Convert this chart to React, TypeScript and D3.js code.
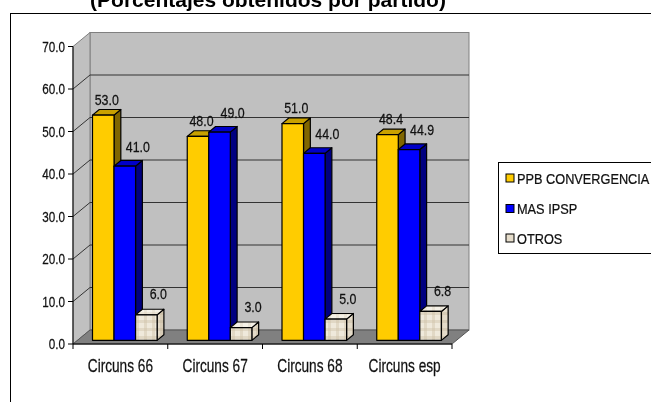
import React, { useEffect, useRef } from 'react';
import * as d3 from 'd3';

const categories = ['Circuns 66', 'Circuns 67', 'Circuns 68', 'Circuns esp'];
const seriesNames = ['PPB CONVERGENCIA', 'MAS IPSP', 'OTROS'];
const ppbValues = [53.0, 48.0, 51.0, 48.4];
const masValues = [41.0, 49.0, 44.0, 44.9];
const otrosValues = [6.0, 3.0, 5.0, 6.8];
const yTicks = [0, 10, 20, 30, 40, 50, 60, 70];
const title = '(Porcentajes obtenidos por partido)';

const App = () => {
  const svgRef = useRef(null);

  useEffect(() => {
    const w = 651;
    const h = 402;

    const svg = d3.select(svgRef.current)
      .attr('width', w)
      .attr('height', h);
    svg.selectAll('*').remove();

    // no Arial Narrow here, so squeeze Liberation Sans horizontally
    const narrowText = (parent, str, x, y, size, anchor, sx = 0.8) =>
      parent.append('text')
        .text(str)
        .attr('transform', `translate(${x},${y}) scale(${sx},1)`)
        .attr('text-anchor', anchor)
        .attr('font-family', "'Liberation Sans', Arial, sans-serif")
        .attr('font-size', size)
        .attr('fill', '#111')
        .attr('stroke', '#111')
        .attr('stroke-width', 0.25);

    // fake 3d: front plane + shift towards the back wall
    const left = 73;
    const right = 452;
    const depthX = 17;
    const depthY = -14;
    // bars sit in the middle of the floor depth
    const barFront = 0.26;
    const barBack = 0.66;

    const yScale = d3.scaleLinear().domain([0, 70]).range([344, 46.5]);
    const x0 = d3.scaleBand().domain(categories).range([left, right]);
    const x1 = d3.scaleBand().domain(seriesNames).range([0, x0.bandwidth()]).paddingOuter(0.7);

    const series = [
      { name: seriesNames[0], values: ppbValues, front: '#FFCC00', top: '#C9A100', side: '#806600' },
      { name: seriesNames[1], values: masValues, front: '#0000FF', top: '#0000C8', side: '#000080' },
      { name: seriesNames[2], values: otrosValues, front: 'url(#otros)', top: 'url(#otrosTop)', side: 'url(#otrosSide)' }
    ];

    // textures for the OTROS cubes
    const defs = svg.append('defs');
    const pat = (id, base, stripe) => {
      const p = defs.append('pattern')
        .attr('id', id)
        .attr('width', 8)
        .attr('height', 8)
        .attr('patternUnits', 'userSpaceOnUse');
      p.append('rect').attr('width', 8).attr('height', 8).attr('fill', base);
      p.append('rect').attr('x', 0).attr('width', 3).attr('height', 8).attr('fill', stripe).attr('opacity', 0.4);
      p.append('rect').attr('y', 0).attr('width', 8).attr('height', 3).attr('fill', stripe).attr('opacity', 0.4);
    };
    pat('otros', '#EFE9DB', '#CDBFA5');
    pat('otrosTop', '#F5F1E7', '#DCD2BE');
    pat('otrosSide', '#E4DBC9', '#C3B69C');

    // outer chart frame (cut by the picture edges)
    svg.append('rect')
      .attr('x', 10.5)
      .attr('y', 13.5)
      .attr('width', 700)
      .attr('height', 500)
      .attr('fill', 'white')
      .attr('stroke', 'black');

    svg.append('text')
      .text(title)
      .attr('x', 268)
      .attr('y', 7)
      .attr('text-anchor', 'middle')
      .attr('font-family', "Arial, 'Liberation Sans', sans-serif")
      .attr('font-weight', 'bold')
      .attr('font-size', '21px');

    const top = yScale(70);
    const base = yScale(0);

    // back wall
    svg.append('rect')
      .attr('x', left + depthX)
      .attr('y', top + depthY)
      .attr('width', right - left)
      .attr('height', base - top)
      .attr('fill', '#C0C0C0')
      .attr('stroke', '#808080');

    // side wall
    svg.append('polygon')
      .attr('points', [
        [left, top], [left + depthX, top + depthY],
        [left + depthX, base + depthY], [left, base]
      ].map((p) => p.join(',')).join(' '))
      .attr('fill', '#C0C0C0')
      .attr('stroke', '#808080');

    // gridlines on both walls
    const grid = yTicks.filter((t) => t > 0 && t < 70);
    svg.selectAll('line.gridBack')
      .data(grid)
      .enter()
      .append('line')
      .attr('x1', left + depthX)
      .attr('x2', right + depthX)
      .attr('y1', (d) => yScale(d) + depthY)
      .attr('y2', (d) => yScale(d) + depthY)
      .attr('stroke', '#333');
    svg.selectAll('line.gridSide')
      .data(grid)
      .enter()
      .append('line')
      .attr('x1', left)
      .attr('x2', left + depthX)
      .attr('y1', (d) => yScale(d))
      .attr('y2', (d) => yScale(d) + depthY)
      .attr('stroke', '#333');

    // floor
    svg.append('polygon')
      .attr('points', [
        [left, base], [right, base],
        [right + depthX, base + depthY], [left + depthX, base + depthY]
      ].map((p) => p.join(',')).join(' '))
      .attr('fill', '#808080')
      .attr('stroke', '#555');

    // axes
    svg.append('line')
      .attr('x1', left).attr('x2', left)
      .attr('y1', base).attr('y2', top)
      .attr('stroke', 'black');
    svg.append('line')
      .attr('x1', left).attr('x2', right)
      .attr('y1', base).attr('y2', base)
      .attr('stroke', 'black');

    svg.selectAll('line.yTick')
      .data(yTicks)
      .enter()
      .append('line')
      .attr('x1', left - 5).attr('x2', left)
      .attr('y1', (d) => yScale(d)).attr('y2', (d) => yScale(d))
      .attr('stroke', 'black');
    yTicks.forEach((t) => {
      narrowText(svg, t.toFixed(1), left - 8, yScale(t) + 5.3, '15px', 'end', 0.78);
    });

    const xEdges = categories.map((c) => x0(c)).concat([right]);
    svg.selectAll('line.xTick')
      .data(xEdges)
      .enter()
      .append('line')
      .attr('x1', (d) => d).attr('x2', (d) => d)
      .attr('y1', base).attr('y2', base + 5)
      .attr('stroke', 'black');
    categories.forEach((c) => {
      narrowText(svg, c, x0(c) + x0.bandwidth() / 2, 371.5, '17.5px', 'middle', 0.78);
    });

    // bars
    const fx = depthX * barFront;
    const fy = depthY * barFront;
    const bdx = depthX * (barBack - barFront);
    const bdy = depthY * (barBack - barFront);
    const bw = x1.bandwidth();
    const pts = (arr) => arr.map((p) => p.join(',')).join(' ');

    categories.forEach((cat, ci) => {
      series.forEach((s) => {
        const v = s.values[ci];
        const x = x0(cat) + x1(s.name) + fx;
        const yt = yScale(v) + fy;
        const yb = base + fy;
        const g = svg.append('g').attr('stroke', 'black').attr('stroke-width', 1.2).attr('stroke-linejoin', 'round');
        g.append('polygon')
          .attr('points', pts([[x + bw, yt], [x + bw + bdx, yt + bdy], [x + bw + bdx, yb + bdy], [x + bw, yb]]))
          .attr('fill', s.side);
        g.append('polygon')
          .attr('points', pts([[x, yt], [x + bw, yt], [x + bw + bdx, yt + bdy], [x + bdx, yt + bdy]]))
          .attr('fill', s.top);
        g.append('rect')
          .attr('x', x)
          .attr('y', yt)
          .attr('width', bw)
          .attr('height', yb - yt)
          .attr('fill', s.front);
      });
    });

    // value labels (excel nudges them a bit right of each column)
    const labelDx = [3.5, 13, 12];
    const labelGap = [5, 9, 10];
    categories.forEach((cat, ci) => {
      series.forEach((s, si) => {
        const v = s.values[ci];
        const x = x0(cat) + x1(s.name) + fx + bw / 2 + labelDx[si];
        const y = yScale(v) + fy + bdy - labelGap[si];
        narrowText(svg, v.toFixed(1), x, y, '15.5px', 'middle', 0.8);
      });
    });

    // legend
    const legend = svg.append('g');
    legend.append('rect')
      .attr('x', 498.5)
      .attr('y', 162.5)
      .attr('width', 200)
      .attr('height', 91)
      .attr('fill', 'white')
      .attr('stroke', 'black');
    const legendColors = ['#FFCC00', '#0000FF', '#E6DDCB'];
    const legendY = [178, 208.5, 238];
    seriesNames.forEach((name, i) => {
      legend.append('rect')
        .attr('x', 506)
        .attr('y', legendY[i] - 4)
        .attr('width', 8)
        .attr('height', 8)
        .attr('fill', legendColors[i])
        .attr('stroke', 'black');
      narrowText(legend, name, 517, legendY[i] + 5.5, '15px', 'start', 0.85);
    });
  }, []);

  return (
    <svg ref={svgRef} style={{ position: 'fixed', left: 0, top: 0 }}></svg>
  );
};

export default App;
